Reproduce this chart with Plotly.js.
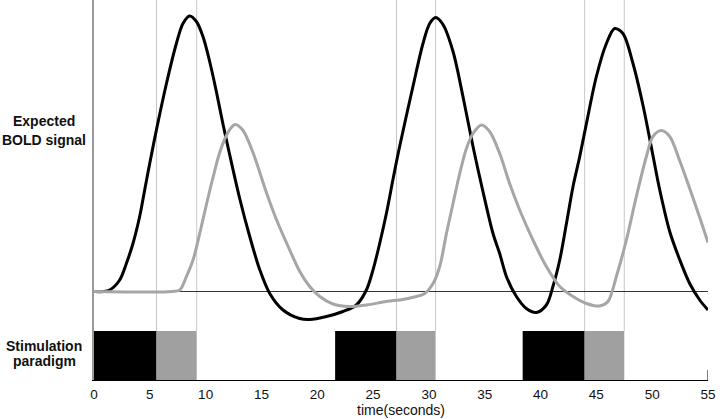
<!DOCTYPE html>
<html>
<head>
<meta charset="utf-8">
<script src="https://cdn.plot.ly/plotly-3.0.1.min.js"></script>
<style>html,body{margin:0;padding:0;background:#fff;}#chart{width:720px;height:419px;}</style>
</head>
<body>
<div id="chart"></div>
<script>
// Expected BOLD signal, response to first stimulus component (black)
const timeBlack = [0, 0.8, 1.41, 2.30, 2.90, 3.49, 4.09, 4.54, 4.99, 5.59, 6.49, 7.38, 7.97, 8.57, 9.17, 9.76, 10.36, 10.96, 11.56, 12.09, 13.05, 13.95, 14.84, 15.74, 16.93, 18.42, 19.32, 20.82, 22.30, 23.50, 24.40, 24.99, 25.59, 26.19, 26.78, 27.32, 28.57, 29.47, 30.07, 30.61, 31.26, 32.16, 33.05, 33.95, 34.84, 35.74, 36.34, 36.94, 37.84, 38.73, 39.63, 40.52, 41.11, 41.72, 42.32, 42.91, 43.51, 44.11, 45.00, 45.90, 46.64, 47.38, 48.28, 49.18, 50.07, 50.67, 51.57, 52.46, 53.36, 54.26, 55.0];
const boldBlack = [0, 0, 1.5, 11.5, 28, 48, 75, 101.5, 128, 161.5, 208, 248, 268, 275.5, 270, 255, 230, 200, 167, 140, 93, 55, 22, -2, -18.5, -27, -28, -25, -20, -13.5, 1.5, 21.5, 48, 78, 112, 142, 205, 248, 268, 274, 267, 240, 195, 145, 100, 58, 38, 15, -5, -17, -21, -13.5, 5, 31.5, 68, 105, 135, 168, 215, 248, 263, 258, 228, 186, 136, 102, 60, 32, 8, -8.5, -18.5];

// Expected BOLD signal, response to second stimulus component (gray)
const timeGray = [0, 7.0, 7.68, 8.28, 8.87, 9.47, 10.07, 10.66, 11.26, 11.86, 12.3, 12.67, 13.35, 14.24, 15.44, 16.34, 17.53, 18.43, 19.32, 20.22, 21.41, 22.90, 24.40, 26.19, 27.68, 28.88, 29.62, 30.37, 30.97, 31.57, 32.16, 32.76, 33.36, 33.95, 34.70, 35.44, 36.34, 37.23, 38.13, 39.32, 40.52, 41.72, 42.91, 44.11, 45.30, 46.04, 46.79, 47.69, 48.58, 49.48, 50.07, 50.82, 51.57, 52.46, 53.36, 54.26, 55.0];
const boldGray = [0, 0, 1.5, 15, 31.5, 58, 87, 114, 139, 156, 164, 167, 161, 139, 99, 72, 41.5, 20, 5, -5, -12.5, -15, -13.5, -10, -8, -5, -2, 8, 25, 58, 88, 118, 143, 158, 166.5, 160, 138, 108, 81.5, 51.5, 25, 5, -5, -12, -14.5, -10, 15, 51.5, 95, 135, 155, 161, 155, 131, 103, 74, 49];

// Stimulation paradigm (seconds)
const blackStart = [0, 21.6, 38.4];
const blackEnd = [5.6, 27.1, 43.95];
const grayEnd = [9.2, 30.6, 47.5];

const xTicks = [0, 5, 10, 15, 20, 25, 30, 35, 40, 45, 50, 55];

const FONT = 'Liberation Sans, Arial, Helvetica, sans-serif';

const traces = [
  {x: timeBlack, y: boldBlack, type: 'scatter', mode: 'lines',
   line: {color: '#000000', width: 3, shape: 'spline', smoothing: 0.9}, hoverinfo: 'skip'},
  {x: timeGray, y: boldGray, type: 'scatter', mode: 'lines',
   line: {color: '#a6a6a6', width: 3, shape: 'spline', smoothing: 0.9}, hoverinfo: 'skip'},
  {x: blackStart, y: blackStart.map(() => 1), base: 0, width: blackStart.map((s, i) => blackEnd[i] - s),
   offset: 0, type: 'bar', yaxis: 'y2', marker: {color: '#000000', line: {width: 0}}, hoverinfo: 'skip'},
  {x: blackEnd, y: blackEnd.map(() => 1), base: 0, width: blackEnd.map((s, i) => grayEnd[i] - s),
   offset: 0, type: 'bar', yaxis: 'y2', marker: {color: '#a0a0a0', line: {width: 0}}, hoverinfo: 'skip'}
];

const shapes = [];
blackEnd.concat(grayEnd).forEach(t => {
  shapes.push({type: 'line', xref: 'x', yref: 'paper', x0: t, x1: t, y0: 0, y1: 1,
    line: {color: '#c8c8c8', width: 1}, layer: 'below'});
});
shapes.push({type: 'line', xref: 'x', yref: 'paper', x0: xTicks[xTicks.length - 1], x1: xTicks[xTicks.length - 1],
  y0: 0, y1: 10 / 380, line: {color: '#000', width: 1}});

const labelX = -0.0814;
const labelFont = {size: 14, family: FONT, color: '#111'};
const labelLines = [
  {text: '<b>Expected</b>', y: 170.5},
  {text: '<b>BOLD signal</b>', y: 151.5},
  {text: '<b>Stimulation</b>', y: -54.5},
  {text: '<b>paradigm</b>', y: -69.5}
];

const layout = {
  width: 720, height: 419,
  margin: {l: 94, r: 12, t: 0, b: 39, pad: 0},
  paper_bgcolor: '#ffffff', plot_bgcolor: '#ffffff',
  showlegend: false,
  barmode: 'overlay',
  font: {family: FONT, color: '#000'},
  xaxis: {range: [0, 55], tickvals: xTicks, ticktext: xTicks.map(String),
    ticks: 'inside', ticklen: 5, tickwidth: 1, tickcolor: '#000', ticklabelstandoff: 2,
    showline: true, linecolor: '#000', linewidth: 1, showgrid: false, zeroline: false,
    tickfont: {size: 13.5, family: FONT, color: '#111'}, layer: 'below traces',
    title: {text: 'time(seconds)', font: {size: 14, family: FONT, color: '#111'}, standoff: 2}},
  yaxis: {range: [-88.5, 291.5], showticklabels: false, ticks: '', showgrid: false,
    showline: true, linecolor: '#999', linewidth: 2, zeroline: true, zerolinecolor: '#333',
    zerolinewidth: 1, layer: 'below traces'},
  yaxis2: {domain: [0, 49 / 380], range: [0, 1], anchor: 'x', visible: false, showgrid: false, zeroline: false},
  shapes: shapes,
  annotations: labelLines.map(l => ({xref: 'paper', yref: 'y', x: labelX, y: l.y,
    xanchor: 'center', yanchor: 'middle', text: l.text, showarrow: false, font: labelFont}))
};

Plotly.newPlot('chart', traces, layout, {displayModeBar: false, staticPlot: true});
</script>
</body>
</html>
